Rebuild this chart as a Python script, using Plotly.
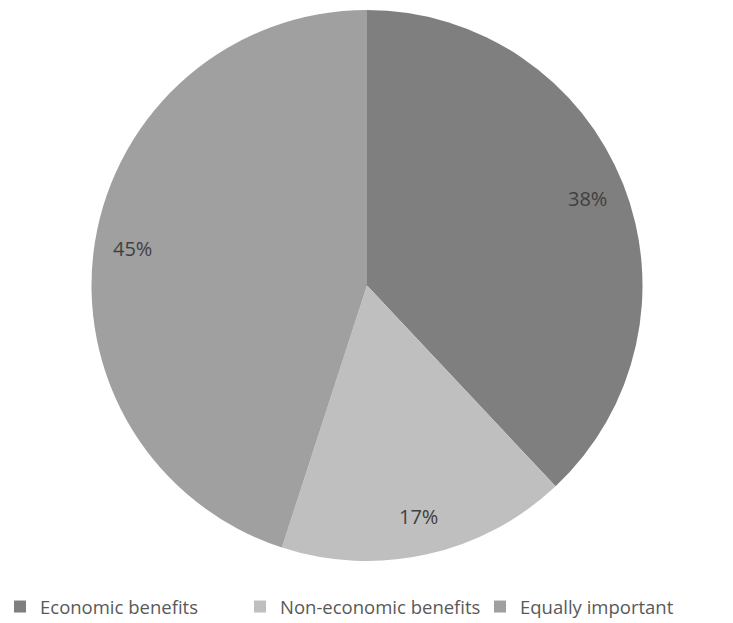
import math
import plotly.graph_objects as go

labels = ["Economic benefits", "Non-economic benefits", "Equally important"]
values = [38, 17, 45]
colors = ["#7f7f7f", "#bfbfbf", "#a0a0a0"]

W, H = 733, 623
cx, cy, R = 367, 285.5, 275.5
label_r = 0.86

fig = go.Figure(go.Pie(
    labels=labels, values=values, sort=False, direction="clockwise", rotation=0,
    marker=dict(colors=colors, line=dict(width=0)),
    textinfo="none",
    domain=dict(x=[(cx - R) / W, (cx + R) / W], y=[1 - (cy + R) / H, 1 - (cy - R) / H]),
    hoverinfo="label+percent",
))

# percentage labels placed at the mid-angle of each slice
total = sum(values)
cum = 0
for v in values:
    mid = (cum + v / 2) / total * 2 * math.pi
    cum += v
    px = cx + label_r * R * math.sin(mid)
    py = cy - label_r * R * math.cos(mid)
    fig.add_annotation(x=px / W, y=1 - py / H, xref="paper", yref="paper",
                       xanchor="center", yanchor="middle",
                       text=f"{round(v / total * 100)}%", showarrow=False,
                       font=dict(family="Open Sans", size=20, color="#404040"))

fig.update_layout(
    width=W, height=H, margin=dict(l=0, r=0, t=0, b=0, autoexpand=False),
    paper_bgcolor="white", plot_bgcolor="white",
    legend=dict(orientation="h", x=0.0, xanchor="left", y=1 - 607 / H, yanchor="middle",
                font=dict(family="Open Sans", size=18.5, color="#595959"),
                traceorder="normal", itemwidth=30, entrywidth=195, entrywidthmode="pixels"),
)
fig.write_html("out.html", config={"displayModeBar": False},
               post_script="document.body.style.margin='0px';")
